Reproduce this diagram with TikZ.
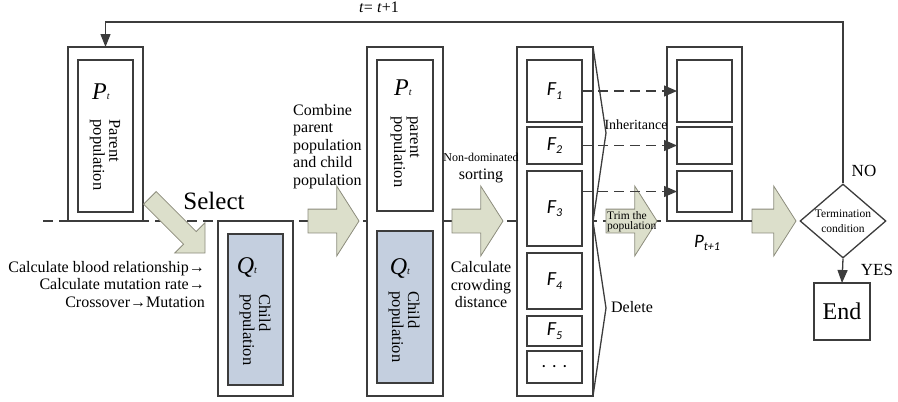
\documentclass[tikz,border=0pt]{standalone}
\usepackage{fontspec}
\setmainfont{Liberation Serif}
\newfontfamily\labelfont{Carlito}
\usetikzlibrary{shapes.geometric,shapes.arrows,arrows.meta,backgrounds}
\definecolor{linegray}{HTML}{3C3C3C}
\definecolor{childblue}{HTML}{C4CFDF}
\definecolor{arrowfill}{HTML}{DCDFCB}
\definecolor{arrowedge}{HTML}{8C8C7C}
\newcommand{\fsize}[2]{\fontsize{#1}{#2}\selectfont}
% population symbol, e.g. P with subscript t
\newcommand{\popsym}[2]{{\fsize{24}{24}\textit{#1}}{\fsize{10}{10}\textit{#2}}}
% front label in sans italic, e.g. F_1
\newcommand{\front}[3][20]{{\labelfont\itshape\fsize{#1}{#1}#2\raisebox{-0.35ex}{\fsize{12}{12}#3}}}
\tikzstyle{popbox}=[draw=linegray, line width=1.3pt, fill=white, inner sep=0, outer sep=0]
\tikzstyle{childbox}=[popbox, fill=childblue]
\tikzstyle{rottext}=[rotate=-90, align=left, font=\fsize{16.5}{16}, inner sep=0]
\tikzstyle{bodytext}=[font=\fsize{16}{17.5}, inner sep=0]
\tikzstyle{blockarrow}=[single arrow, draw=arrowedge, fill=arrowfill, line width=0.8pt,
                        inner xsep=0, inner ysep=11.5pt, outer sep=0, single arrow head extend=23pt,
                        single arrow tip angle=115, minimum height=51pt]
\tikzstyle{flowline}=[draw=linegray, line width=1.3pt]
\tikzstyle{inherit}=[flowline, dash pattern=on 10pt off 6pt, -{Triangle[length=13pt,width=11pt]}]

\begin{document}
\begin{tikzpicture}[x=1pt, y=-1pt]
    \useasboundingbox (0,0) rectangle (898,402);

    % parent population P_t
    \node[popbox, minimum width=75pt, minimum height=174pt] (ptout) at (105.5,134) {};
    \node[popbox, minimum width=55pt, minimum height=152pt] (ptin) at (105.5,136) {};
    \node (ptsym) at (101,92) {\popsym{P}{t}};
    \node[rottext] (ptname) at (105,155) {Parent\\population};

    % child population Q_t
    \node[popbox, minimum width=75pt, minimum height=175pt] (qtout) at (255.5,308.5) {};
    \node[childbox, minimum width=55pt, minimum height=151pt] (qtin) at (255.5,309.5) {};
    \node (qtsym) at (247,267) {\popsym{Q}{t}};
    \node[rottext] (qtname) at (255,330) {Child\\population};

    % combined population R_t = P_t + Q_t
    \node[popbox, minimum width=76pt, minimum height=349pt] (rtout) at (405,221.5) {};
    \node[popbox, minimum width=56pt, minimum height=151pt] (rtp) at (405,135.5) {};
    \node[childbox, minimum width=56pt, minimum height=152pt] (rtq) at (405,307) {};
    \node (rtpsym) at (403,88) {\popsym{P}{t}};
    \node[rottext] (rtpname) at (405,152) {parent\\population};
    \node (rtqsym) at (400,268) {\popsym{Q}{t}};
    \node[rottext] (rtqname) at (404,327) {Child\\population};

    % non-dominated fronts
    \node[popbox, minimum width=76pt, minimum height=349pt] (fout) at (555,221.5) {};
    \foreach \n/\y/\h in {1/91/62, 2/145.5/37, 3/208.5/75, 4/281/56, 5/331/30}
        \node[popbox, minimum width=55pt, minimum height=\h pt] (f\n) at (554.5,\y) {\front{F}{\n}};
    \node[popbox, minimum width=55pt, minimum height=32pt] (f6) at (554.5,367) {\labelfont\fsize{18}{18}.\,\,.\,\,.};

    % next population P_{t+1}
    \node[popbox, minimum width=75pt, minimum height=174pt] (pnout) at (704.5,134) {};
    \node[popbox, minimum width=55pt, minimum height=62pt] (pn1) at (704.5,91) {};
    \node[popbox, minimum width=55pt, minimum height=37pt] (pn2) at (704.5,145.5) {};
    \node[popbox, minimum width=55pt, minimum height=41pt] (pn3) at (704.5,191.5) {};
    \node (pnlabel) at (707,243) {\front[19]{P}{t+1}};

    % termination test
    \node[diamond, draw=linegray, line width=1.3pt, aspect=1.2, inner sep=0,
          minimum width=86pt, minimum height=74pt, align=center, font=\fsize{11.5}{15}] (cond) at (843,221) {Termination\\condition};
    \node[popbox, minimum width=56pt, minimum height=57pt, font=\fsize{24}{24}] (end) at (842,311.5) {End};
    \node[font=\fsize{17}{17}] (no) at (864,171) {NO};
    \node[font=\fsize{17}{17}] (yes) at (877,270) {YES};

    % block arrows
    \node[blockarrow, anchor=tip, rotate=-45, inner ysep=8.5pt, minimum height=78pt,
          single arrow head extend=12.5pt, single arrow tip angle=90] (select) at (205,253) {};
    \node[blockarrow, anchor=tip] (combine) at (359,221) {};
    \node[blockarrow, anchor=tip] (sorting) at (503,221) {};
    \node[blockarrow, anchor=tip] (trim) at (657,221) {};
    \node[blockarrow, anchor=tip, minimum height=44pt] (toend) at (796,221) {};

    % texts
    \node[font=\fsize{25}{25}] (selecttext) at (214,201) {Select};
    \node[bodytext, align=right, anchor=north east] (ops) at (205,261) {Calculate blood relationship→\\Calculate mutation rate→\\Crossover→Mutation};
    \node[bodytext, align=left, anchor=north west] (combinetext) at (293,104) {Combine\\parent\\population\\and child\\population};
    \node[bodytext, align=center] (sorttext) at (481,168) {{\fsize{12}{14}Non-dominated}\\sorting};
    \node[bodytext, align=center] (crowdtext) at (481,285) {Calculate\\crowding\\distance};
    \node[font=\fsize{11.5}{10}, align=left, anchor=west, inner sep=0] (trimtext) at (607,222) {Trim the\\population};
    \node[font=\fsize{14}{14}] (keeptext) at (636,125) {Inheritance};
    \node[bodytext] (droptext) at (632,307) {Delete};
    \node[bodytext, anchor=base] (iter) at (379,12) {\textit{t}= \textit{t}+1};

    % generation line behind the boxes
    \coordinate (midstart) at (43,221);
    \begin{scope}[on background layer]
        \draw[flowline, dash pattern=on 10pt off 6pt] (midstart) -- (pnout.south west);
    \end{scope}
    \draw[flowline] (pnout.south east) -- (toend.tail);

    % split of the fronts
    \coordinate (keeptip) at (606,133);
    \coordinate (droptip) at (606,308);
    \draw[flowline] (fout.north east) -- (keeptip) -- (fout.east) -- (droptip) -- (fout.south east);

    \draw[inherit] (f1) -- (pn1);
    \draw[inherit] (f2) -- (pn2);
    \draw[inherit] (pn3.west -| f3.east) -- (pn3.west);

    % loop back to the next generation
    \coordinate (looptop) at (0,22);
    \draw[flowline, -{Triangle[length=13pt,width=10pt]}] (cond.north) |- (ptout.north |- looptop) -- (ptout.north);
    \draw[flowline, -{Triangle[length=13pt,width=10pt]}] (cond.south) -- (end.north);
\end{tikzpicture}
\end{document}
